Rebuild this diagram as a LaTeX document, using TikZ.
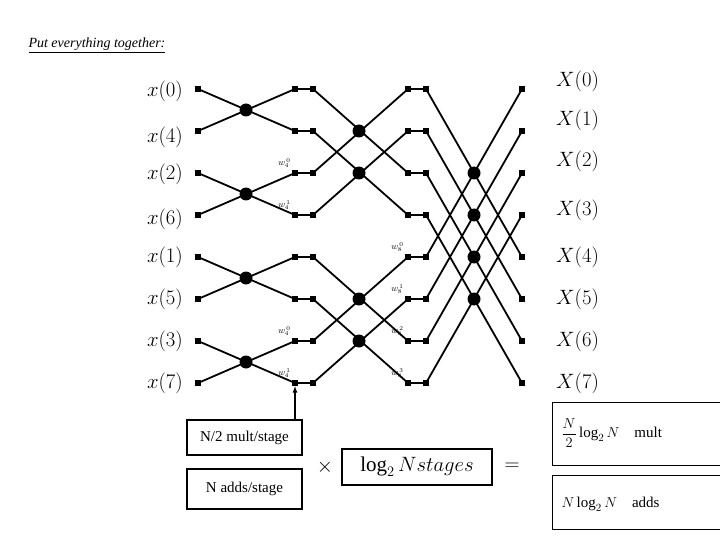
\documentclass[tikz,border=0pt]{standalone}
\usepackage{fontspec}
\setmainfont{Liberation Serif}
\usetikzlibrary{positioning}
\tikzset{
  sq/.style={fill=black,minimum size=6pt,inner sep=0pt},
  dot/.style={circle,fill=black,minimum size=13pt,inner sep=0pt},
  wire/.style={line width=1.8pt},
  tw/.style={font=\fontsize{9}{9}\selectfont,inner sep=0pt},
  lbl/.style={font=\fontsize{20}{20}\selectfont,inner sep=0pt},
  box/.style={draw,line width=1.2pt,inner sep=0pt}
}
\begin{document}
\begin{tikzpicture}[x=1pt,y=-1pt]
\useasboundingbox (0,0) rectangle (720,540);

\node[anchor=west,font=\fontsize{14}{14}\selectfont\itshape] (title) at (25,45) {\underline{Put everything together:}};

% squares of every column
\foreach \r in {0,...,7} {
  \pgfmathsetmacro{\y}{89+42*\r}
  \node[sq] (i\r) at (198,\y) {};
  \node[sq] (a\r) at (295,\y) {};
  \node[sq] (b\r) at (313,\y) {};
  \node[sq] (c\r) at (408,\y) {};
  \node[sq] (d\r) at (426,\y) {};
  \node[sq] (o\r) at (522,\y) {};
  \draw[wire] (a\r) -- (b\r);
  \draw[wire] (c\r) -- (d\r);
}

% butterflies
\foreach \r in {0,...,7} {
  \pgfmathtruncatemacro{\p}{\r+1-2*mod(\r,2)}
  \pgfmathtruncatemacro{\q}{\r+2-4*mod(floor(\r/2),2)}
  \pgfmathtruncatemacro{\s}{\r+4-8*floor(\r/4)}
  \draw[wire] (i\r.center) -- (a\p.center);
  \draw[wire] (b\r.center) -- (c\q.center);
  \draw[wire] (d\r.center) -- (o\s.center);
}

% crossing dots
\foreach \y [count=\k] in {110,194,278,362} \node[dot] (s1\k) at (246,\y) {};
\foreach \y [count=\k] in {131,173,299,341} \node[dot] (s2\k) at (359,\y) {};
\foreach \y [count=\k] in {173,215,257,299} \node[dot] (s3\k) at (474,\y) {};

% inputs and outputs
\foreach \n/\y [count=\k] in {0/91,4/137,2/174,6/219,1/257,5/299,3/341,7/383}
  \node[lbl,anchor=east] (xin\k) at (183,\y) {$x(\n)$};
\foreach \n/\y in {0/81,1/120,2/161,3/210,4/257,5/299,6/341,7/383}
  \node[lbl,anchor=west] (xout\n) at (556,\y) {$X(\n)$};

% twiddles
\foreach \r/\e in {2/0,3/1,6/0,7/1}
  \node[tw,anchor=south east] (wa\r) at ([xshift=-1pt,yshift=2pt]a\r.north west) {$w_4^{\,\e}$};
\foreach \r/\e in {4/0,5/1,6/2,7/3}
  \node[tw,anchor=south east] (wc\r) at ([xshift=-1pt,yshift=2pt]c\r.north west) {$w_8^{\,\e}$};

% counting
\node[box,minimum width=115pt,minimum height=35pt,font=\fontsize{15}{15}\selectfont] (mult) at (244.5,437.5) {N/2 mult/stage};
\node[box,minimum width=115pt,minimum height=40pt,font=\fontsize{15}{15}\selectfont] (adds) at (244.5,489) {N adds/stage};
\draw[-latex,line width=1.2pt] (mult.north -| a7) -- (a7.south);
\node[font=\fontsize{20}{20}\selectfont] (times) at (325,467) {$\times$};
\node[box,minimum width=150pt,minimum height=36pt,font=\fontsize{21}{21}\selectfont] (stages) at (417,467) {$\log_2 N stages$};
\node[font=\fontsize{22}{22}\selectfont] (eq) at (512,467) {$=$};
\node[box,minimum width=200pt,minimum height=63pt,anchor=north west] (rmult) at (552,402) {};
\node[anchor=west,font=\fontsize{15}{15}\selectfont] (tmult) at (558,433) {$\displaystyle\frac{N}{2}\log_2 N$\quad mult};
\node[box,minimum width=200pt,minimum height=54pt,anchor=north west] (radds) at (552,475) {};
\node[anchor=west,font=\fontsize{15}{15}\selectfont] (tadds) at (558,504) {$N\log_2 N$\quad adds};
\end{tikzpicture}
\end{document}
